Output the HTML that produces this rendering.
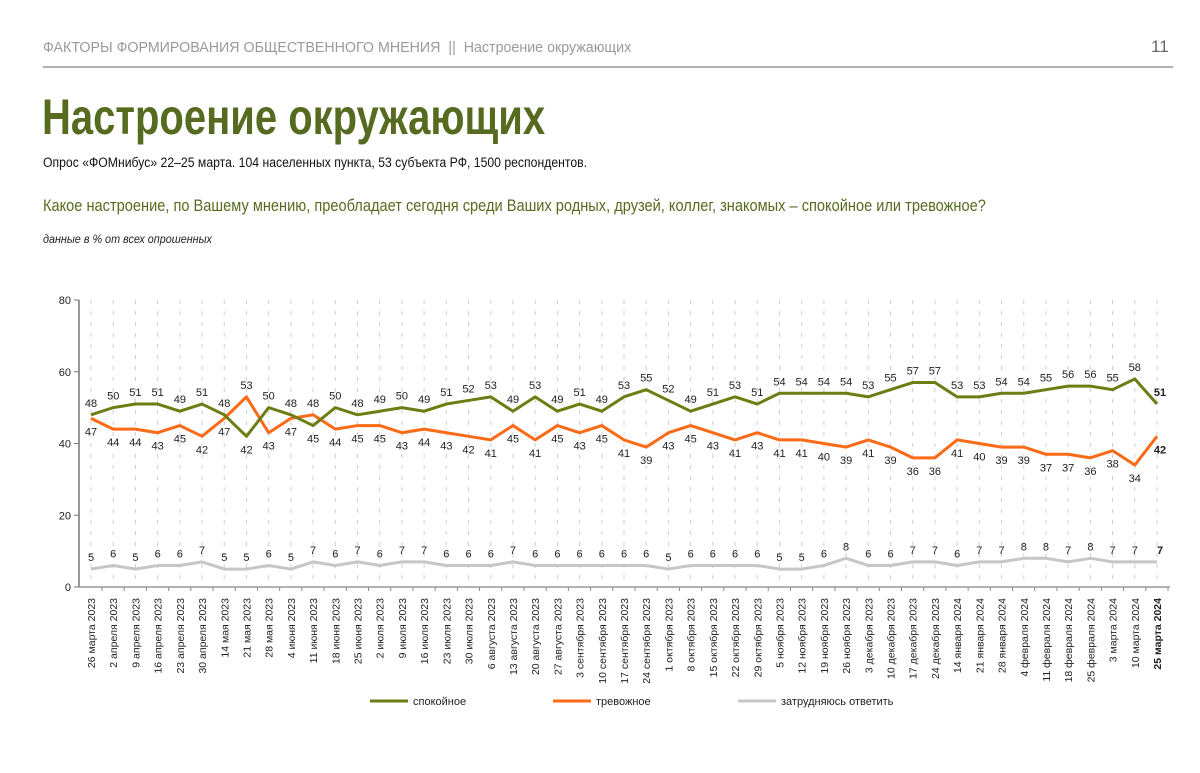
<!DOCTYPE html>
<html><head><meta charset="utf-8">
<style>
body{margin:0;background:#fff;}
#page{position:relative;width:1200px;height:773px;overflow:hidden;font-family:"Liberation Sans Narrow","Liberation Sans",sans-serif;}
.abs{position:absolute;white-space:nowrap;transform-origin:0 0;}
</style></head><body>
<div id="page">
<div class="abs" style="left:43px;top:39px;font-size:15px;color:#9a9a9a;transform:scaleX(0.95)">ФАКТОРЫ ФОРМИРОВАНИЯ ОБЩЕСТВЕННОГО МНЕНИЯ &nbsp;||&nbsp; Настроение окружающих</div>
<div class="abs" style="left:1151px;top:37px;font-size:17px;color:#666">11</div>
<div class="abs" style="left:43px;top:66px;width:1130px;height:2px;background:#b0b0b0"></div>
<div class="abs" style="left:42px;top:88px;font-size:50px;font-weight:bold;color:#566b1f;transform:scaleX(0.8)">Настроение окружающих</div>
<div class="abs" style="left:43px;top:155px;font-size:13.5px;color:#111;transform:scaleX(0.905)">Опрос «ФОМнибус» 22–25 марта. 104 населенных пункта, 53 субъекта РФ, 1500 респондентов.</div>
<div class="abs" style="left:43px;top:197px;font-size:16.5px;color:#566b1f;transform:scaleX(0.885)">Какое настроение, по Вашему мнению, преобладает сегодня среди Ваших родных, друзей, коллег, знакомых – спокойное или тревожное?</div>
<div class="abs" style="left:43px;top:232px;font-size:12px;font-style:italic;color:#222;transform:scaleX(0.9)">данные в % от всех опрошенных</div>
<svg id="chart" width="1200" height="773" style="position:absolute;left:0;top:0" font-family="'Liberation Sans Narrow','Liberation Sans',sans-serif"></svg>
</div>
<script>
const categories=["26 марта 2023","2 апреля 2023","9 апреля 2023","16 апреля 2023","23 апреля 2023","30 апреля 2023","14 мая 2023","21 мая 2023","28 мая 2023","4 июня 2023","11 июня 2023","18 июня 2023","25 июня 2023","2 июля 2023","9 июля 2023","16 июля 2023","23 июля 2023","30 июля 2023","6 августа 2023","13 августа 2023","20 августа 2023","27 августа 2023","3 сентября 2023","10 сентября 2023","17 сентября 2023","24 сентября 2023","1 октября 2023","8 октября 2023","15 октября 2023","22 октября 2023","29 октября 2023","5 ноября 2023","12 ноября 2023","19 ноября 2023","26 ноября 2023","3 декабря 2023","10 декабря 2023","17 декабря 2023","24 декабря 2023","14 января 2024","21 января 2024","28 января 2024","4 февраля 2024","11 февраля 2024","18 февраля 2024","25 февраля 2024","3 марта 2024","10 марта 2024","25 марта 2024"];
const calm=[48,50,51,51,49,51,48,42,50,48,45,50,48,49,50,49,51,52,53,49,53,49,51,49,53,55,52,49,51,53,51,54,54,54,54,53,55,57,57,53,53,54,54,55,56,56,55,58,51];
const anxious=[47,44,44,43,45,42,47,53,43,47,48,44,45,45,43,44,43,42,41,45,41,45,43,45,41,39,43,45,43,41,43,41,41,40,39,41,39,36,36,41,40,39,39,37,37,36,38,34,42];
const hard=[5,6,5,6,6,7,5,5,6,5,7,6,7,6,7,7,6,6,6,7,6,6,6,6,6,6,5,6,6,6,6,5,5,6,8,6,6,7,7,6,7,7,8,8,7,8,7,7,7];
const yTicks=[0,20,40,60,80];
const svg=document.getElementById('chart');
const NS='http://www.w3.org/2000/svg';
const X0=91,X1=1157,Y0=587,Y80=300;
const x=i=>X0+(X1-X0)*i/(categories.length-1);
const y=v=>Y0-(Y0-Y80)*v/80;
function mk(tag,attrs,parent){const e=document.createElementNS(NS,tag);for(const k in attrs)e.setAttribute(k,attrs[k]);(parent||svg).appendChild(e);return e;}
categories.forEach((c,i)=>{
 const g=mk('line',{x1:x(i),x2:x(i),y1:Y80,y2:Y0,stroke:'#cfcfcf','stroke-dasharray':'4,7','stroke-width':1});
 
 
 const t=mk('line',{x1:x(i)+11,x2:x(i)+11,y1:Y0,y2:Y0+4,stroke:'#888'});
 
 
 const last=i===categories.length-1;
 const lb=mk('text',{x:x(i)+4,y:598,'font-size':10.5,fill:'#222','text-anchor':'end','font-weight':last?'bold':'normal',transform:`rotate(-90 ${x(i)+4} 598)`});
 lb.textContent=c;
 
 
});
const ya=mk('line',{x1:79,x2:79,y1:Y80,y2:Y0,stroke:'#777','stroke-width':1.5});


const xa=mk('line',{x1:79,x2:1170,y1:Y0,y2:Y0,stroke:'#999','stroke-width':1.5});


yTicks.forEach(v=>{
 const t=mk('line',{x1:74,x2:79,y1:y(v),y2:y(v),stroke:'#777'});
 
 
 const l=mk('text',{x:71,y:y(v)+4,'font-size':11,fill:'#222','text-anchor':'end'});
 l.textContent=v;
 
 
});
function series(vals,color,name){
 const p=mk('polyline',{points:vals.map((v,i)=>x(i)+','+y(v)).join(' '),fill:'none',stroke:color,'stroke-width':3,'stroke-linejoin':'round'});
 
 
}
series(hard,'#c6c6c6','hard-to-say');
series(anxious,'#fb6a17','anxious');
series(calm,'#6b7d13','calm');
function lbl(i,v,above,name){
 const last=i===categories.length-1;
 const t=mk('text',{x:last?x(i)+3:x(i),y:above?y(v)-8:y(v)+17,'font-size':11,fill:'#222','text-anchor':'middle','font-weight':last?'bold':'normal'});
 t.textContent=v;
 
 
}
categories.forEach((c,i)=>{
 const cAbove=calm[i]>=anxious[i];
 lbl(i,calm[i],cAbove,'calm');
 lbl(i,anxious[i],!cAbove,'anxious');
 lbl(i,hard[i],true,'hard-to-say');
});
const leg=[['#6b7d13','спокойное',370],['#fb6a17','тревожное',553],['#c6c6c6','затрудняюсь ответить',738]];
leg.forEach(l=>{
 const g=mk('g',{});
 
 
 mk('line',{x1:l[2],x2:l[2]+38,y1:701,y2:701,stroke:l[0],'stroke-width':3},g);
 const t=mk('text',{x:l[2]+43,y:705,'font-size':11,fill:'#222'},g);
 t.textContent=l[1];
});
</script>
</body></html>
